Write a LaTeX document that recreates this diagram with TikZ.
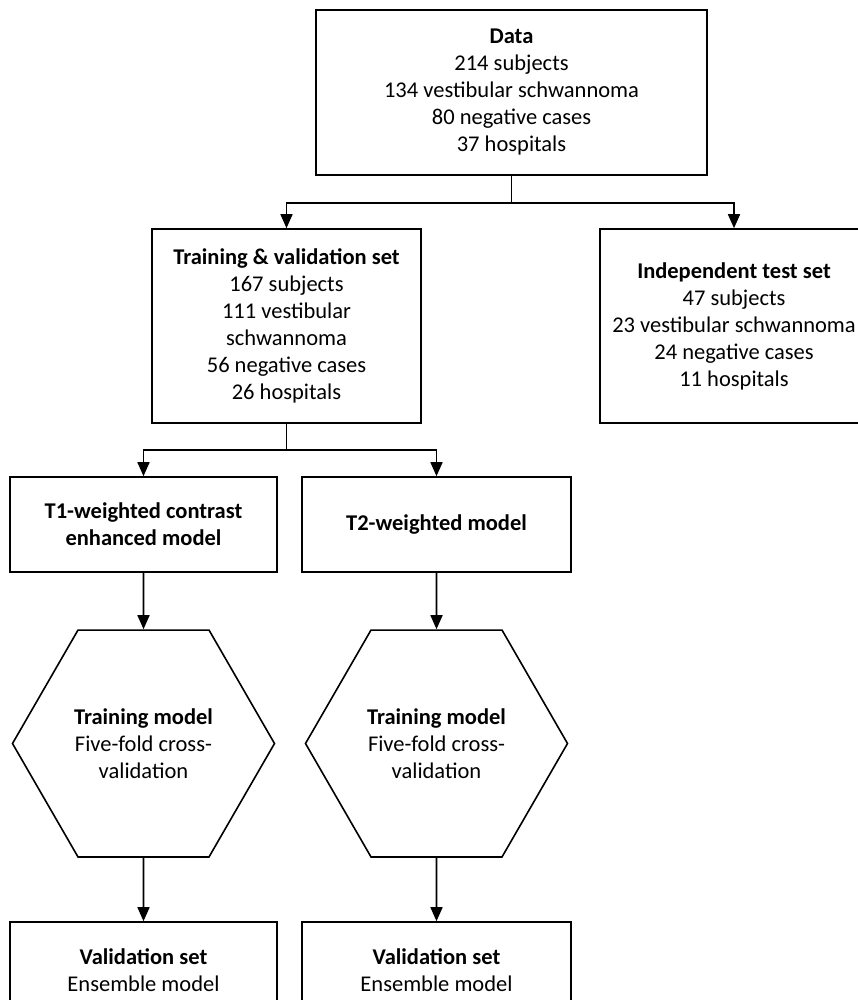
\documentclass[tikz,border=0pt]{standalone}
\usepackage{fontspec}
\setmainfont{Carlito}
\usetikzlibrary{arrows.meta,shapes.geometric,scopes}

\begin{document}
\begin{tikzpicture}[x=1pt,y=-1pt,
    box/.style={draw=black,line width=1.6pt,align=center,inner sep=0pt,font=\fontsize{22.5}{27}\selectfont},
    hex/.style={box,regular polygon,regular polygon sides=6,minimum size=262pt},
    link/.style={line width=1.6pt},
    arr/.style={link,-{Triangle[length=14pt,width=12pt]}},
]
	\useasboundingbox (0,0) rectangle (858,1000);
	\clip (0,0) rectangle (858,1000);

	% top
	\node[box,minimum width=391pt,minimum height=165pt] (data) at (511.5,92.5)
		{\textbf{Data}\\214 subjects\\134 vestibular schwannoma\\80 negative cases\\37 hospitals};
	\node[box,minimum width=269pt,minimum height=194pt] (train) at (286.5,326)
		{\textbf{Training \& validation set}\\167 subjects\\111 vestibular\\schwannoma\\56 negative cases\\26 hospitals};
	\node[box,minimum width=268pt,minimum height=194pt] (test) at (734,326)
		{\textbf{Independent test set}\\47 subjects\\23 vestibular schwannoma\\24 negative cases\\11 hospitals};

	% models
	\node[box,minimum width=267pt,minimum height=95pt] (tone) at (143.5,524.5)
		{\textbf{T1-weighted contrast}\\\textbf{enhanced model}};
	\node[box,minimum width=269pt,minimum height=95pt] (ttwo) at (436.5,524.5)
		{\textbf{T2-weighted model}};
	\node[hex] (hexone) at (143.5,743.5)
		{\textbf{Training model}\\Five-fold cross-\\validation};
	\node[hex] (hextwo) at (436.5,743.5)
		{\textbf{Training model}\\Five-fold cross-\\validation};
	\node[box,minimum width=267pt,minimum height=96pt] (valone) at (143.5,970)
		{\textbf{Validation set}\\Ensemble model};
	\node[box,minimum width=269pt,minimum height=96pt] (valtwo) at (436.5,970)
		{\textbf{Validation set}\\Ensemble model};

	\coordinate (splitA) at (511.5,203);
	\coordinate (splitB) at (286.5,450);

	{[link]
	\draw (data.south) -- (splitA);
	\draw (train.south) -- (splitB);
	}
	{[arr]
	\draw (splitA) -| (train.north);
	\draw (splitA) -| (test.north);
	\draw (splitB) -| (tone.north);
	\draw (splitB) -| (ttwo.north);
	\draw (tone.south) -- (hexone.north);
	\draw (ttwo.south) -- (hextwo.north);
	\draw (hexone.south) -- (valone.north);
	\draw (hextwo.south) -- (valtwo.north);
	}
\end{tikzpicture}
\end{document}
